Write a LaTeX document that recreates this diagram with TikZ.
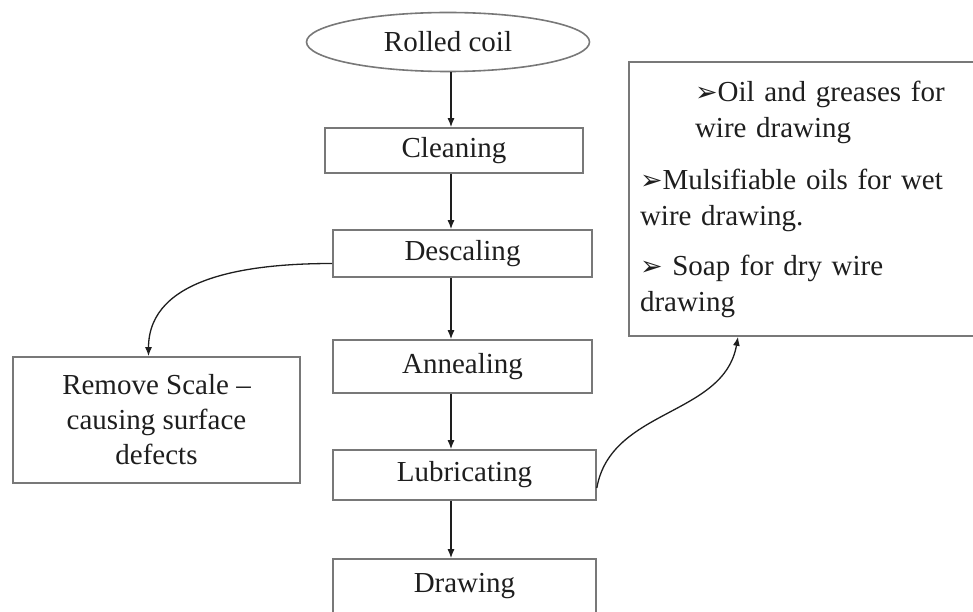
\documentclass[tikz,border=0pt]{standalone}
\usepackage{fontspec}
\setmainfont{Liberation Serif}
\newfontfamily\dingfont{DejaVu Sans}
\usetikzlibrary{arrows.meta,shapes.geometric}
\definecolor{boxgray}{RGB}{120,120,120}
\definecolor{inkgray}{RGB}{30,30,30}
\newcommand{\tip}{{\dingfont\fontsize{27}{27}\selectfont ➢}}

\begin{document}
\begin{tikzpicture}[x=1pt,y=1pt,
  stage/.style={draw=boxgray, line width=1.6pt, text=inkgray, inner sep=0pt,
    font=\fontsize{29}{35}\selectfont},
  flow/.style={draw=inkgray, line width=1.3pt, -{Latex[length=9pt,width=7pt]}}]
\useasboundingbox (0,0) rectangle (973,-612);
\coordinate (spine) at (451,0);

% Process steps
\node[stage, ellipse, minimum width=283pt, minimum height=59pt] (rolled) at (448,-42) {Rolled coil};
\node[stage, minimum width=258pt, minimum height=45pt] (cleaning) at (454,-150.5) {Cleaning};
\node[stage, minimum width=259pt, minimum height=47pt] (descaling) at (462.5,-253.5) {Descaling};
\node[stage, minimum width=259pt, minimum height=53pt] (annealing) at (462.5,-366.5) {Annealing};
\node[stage, minimum width=263pt, minimum height=50pt] (lubricating) at (464.5,-475) {Lubricating};
\node[stage, minimum width=263pt, minimum height=55pt] (drawing) at (464.5,-586.5) {Drawing};

% Side notes
\node[stage, align=center, minimum width=287pt, minimum height=126pt] (remove) at (156.5,-420)
  {Remove Scale --\\causing surface\\defects};
\node[stage, align=left, inner xsep=11pt, text width=324pt, minimum height=274pt,
  font=\fontsize{29}{36}\selectfont] (lube) at (802,-199)
  {\hspace*{55pt}\tip Oil and greases for\\
   \hspace*{55pt}wire drawing\\[16pt]
   \tip Mulsifiable oils for wet\\
   wire drawing.\\[14pt]
   \tip\ Soap for dry wire\\
   drawing\\[6pt]};

% Main flow
\draw[flow] (rolled.south -| spine) -- (cleaning.north -| spine);
\draw[flow] (cleaning.south -| spine) -- (descaling.north -| spine);
\draw[flow] (descaling.south -| spine) -- (annealing.north -| spine);
\draw[flow] (annealing.south -| spine) -- (lubricating.north -| spine);
\draw[flow] (lubricating.south -| spine) -- (drawing.north -| spine);

% Branches
\draw[flow] ([yshift=-10pt]descaling.west) to[out=180,in=90] ([xshift=-8pt]remove.north);
\draw[flow] ([yshift=-13pt]lubricating.east) to[out=80,in=-100] ([xshift=-64pt]lube.south);
\end{tikzpicture}
\end{document}
